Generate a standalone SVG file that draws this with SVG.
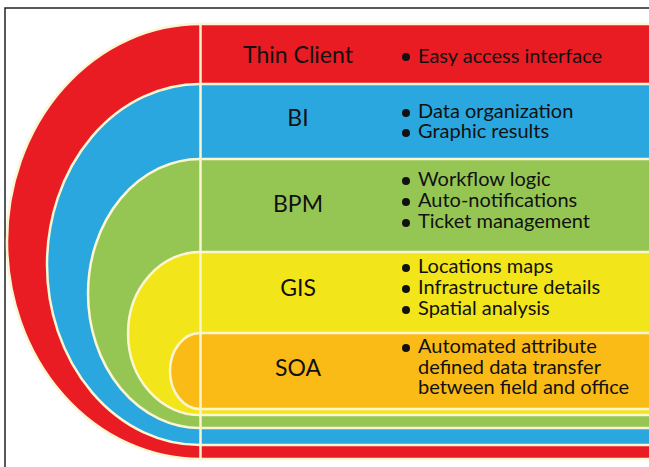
<svg xmlns="http://www.w3.org/2000/svg" width="649" height="467" viewBox="0 0 649 467">
<style>
.band{stroke:#fbf5d2;stroke-width:2.5}
.lbl{font-family:Lato,"Open Sans",sans-serif;font-size:23px;fill:#111;text-anchor:middle}
.txt{font-family:Lato,"Open Sans",sans-serif;font-size:20px;fill:#111}
.dot{fill:#111}
</style>
<rect width="649" height="467" fill="#fff"/>
<path d="M5 467 V8 H649" fill="none" stroke="#222" stroke-width="1.5"/>
<g id="thin-client">
<path class="band" fill="#e91c24" d="M651 24 H200 A193 217.5 0 0 0 200 459 H651 Z"/>
<text class="lbl" x="298" y="63">Thin Client</text>
<circle class="dot" cx="406" cy="57" r="4"/>
<text class="txt" x="418" y="63">Easy access interface</text>
</g>
<g id="bi">
<path class="band" fill="#2aa7df" d="M651 84 H200 A153 180.5 0 0 0 200 445 H651 Z"/>
<text class="lbl" x="298" y="126">BI</text>
<circle class="dot" cx="406" cy="113" r="4"/>
<text class="txt" x="418" y="118">Data organization</text>
<circle class="dot" cx="406" cy="133" r="4"/>
<text class="txt" x="418" y="138">Graphic results</text>
</g>
<g id="bpm">
<path class="band" fill="#95c653" d="M651 159 H200 A112 134.5 0 0 0 200 428 H651 Z"/>
<text class="lbl" x="298" y="212">BPM</text>
<circle class="dot" cx="406" cy="181" r="4"/>
<text class="txt" x="418" y="186">Workflow logic</text>
<circle class="dot" cx="406" cy="202" r="4"/>
<text class="txt" x="418" y="207">Auto-notifications</text>
<circle class="dot" cx="406" cy="223" r="4"/>
<text class="txt" x="418" y="228">Ticket management</text>
</g>
<g id="gis">
<path class="band" fill="#f2e61b" d="M651 252 H200 A72 81.5 0 0 0 200 415 H651 Z"/>
<text class="lbl" x="298" y="296">GIS</text>
<circle class="dot" cx="406" cy="268" r="4"/>
<text class="txt" x="418" y="273">Locations maps</text>
<circle class="dot" cx="406" cy="289" r="4"/>
<text class="txt" x="418" y="294">Infrastructure details</text>
<circle class="dot" cx="406" cy="310" r="4"/>
<text class="txt" x="418" y="315">Spatial analysis</text>
</g>
<g id="soa">
<path class="band" fill="#fbbb16" d="M651 333 H200 A30 38 0 0 0 200 409 H651 Z"/>
<text class="lbl" x="298" y="376">SOA</text>
<circle class="dot" cx="406" cy="348" r="4"/>
<text class="txt" x="418" y="353">Automated attribute</text>
<text class="txt" x="418" y="374">defined data transfer</text>
<text class="txt" x="418" y="394">between field and office</text>
</g>
<g id="divider">
<line x1="200.5" y1="24" x2="200.5" y2="459" stroke="#fbf5d2" stroke-width="2.5"/>
</g>
</svg>
